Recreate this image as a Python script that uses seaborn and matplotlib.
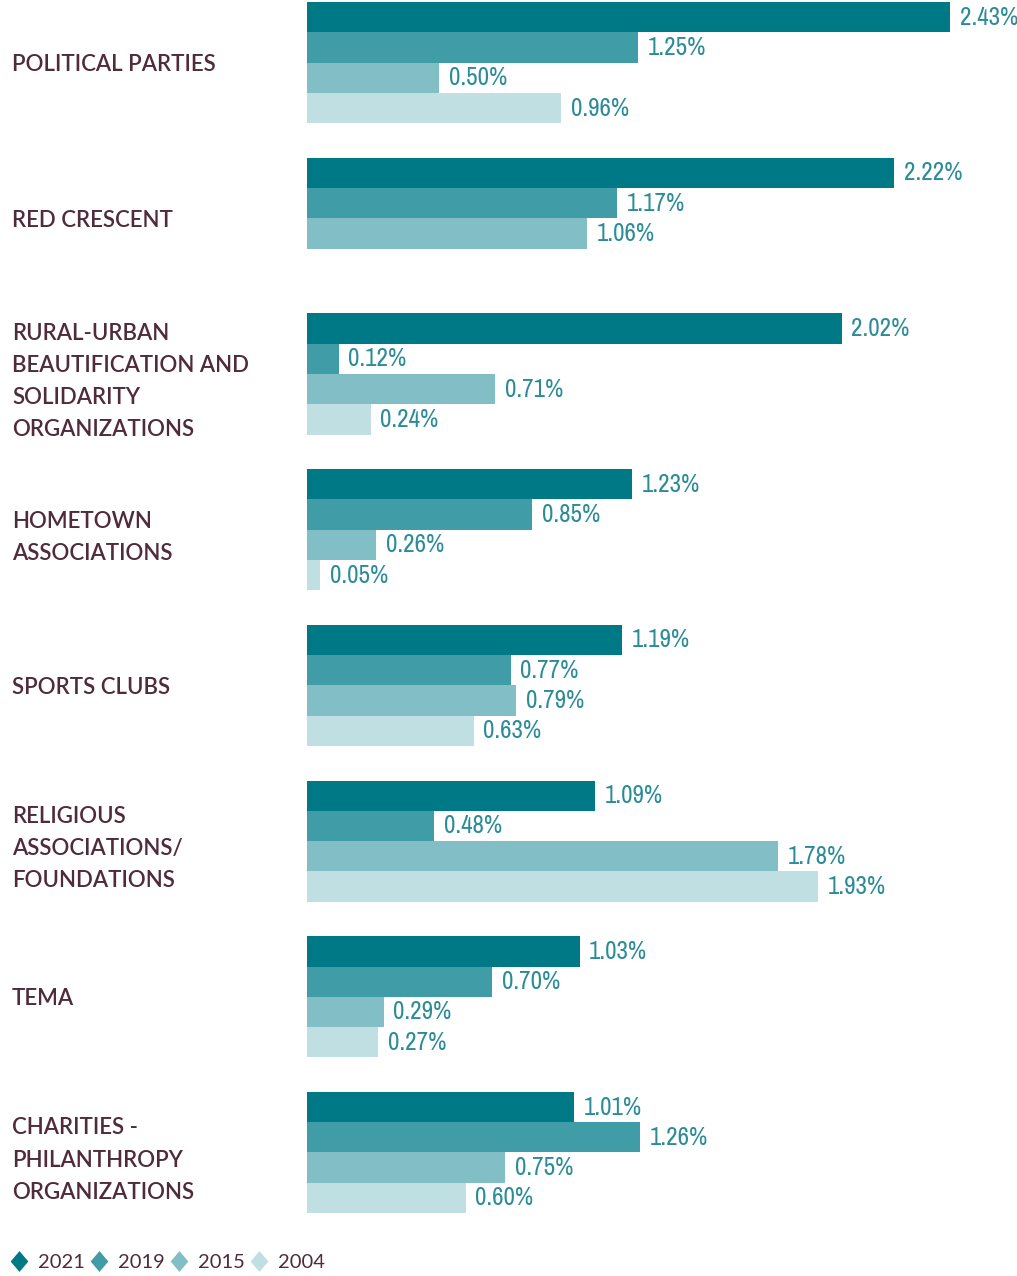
import numpy as np
import pandas as pd
import seaborn as sns
import matplotlib.pyplot as plt
from matplotlib import font_manager
from matplotlib.lines import Line2D
from matplotlib.path import Path

categories = [
    "POLITICAL PARTIES",
    "RED CRESCENT",
    "RURAL-URBAN\nBEAUTIFICATION AND\nSOLIDARITY\nORGANIZATIONS",
    "HOMETOWN\nASSOCIATIONS",
    "SPORTS CLUBS",
    "RELIGIOUS\nASSOCIATIONS/\nFOUNDATIONS",
    "TEMA",
    "CHARITIES -\nPHILANTHROPY\nORGANIZATIONS",
]
years = ["2021", "2019", "2015", "2004"]
values_2021 = [2.43, 2.22, 2.02, 1.23, 1.19, 1.09, 1.03, 1.01]
values_2019 = [1.25, 1.17, 0.12, 0.85, 0.77, 0.48, 0.70, 1.26]
values_2015 = [0.50, 1.06, 0.71, 0.26, 0.79, 1.78, 0.29, 0.75]
values_2004 = [0.96, np.nan, 0.24, 0.05, 0.63, 1.93, 0.27, 0.60]

colors = ["#007987", "#409DA7", "#81BEC5", "#BFDFE2"]
label_color = "#4F2B3B"
value_color = "#2B8C97"

series = dict(zip(years, [values_2021, values_2019, values_2015, values_2004]))
df = pd.DataFrame(
    [(c, y, v) for y, vals in series.items() for c, v in zip(categories, vals)],
    columns=["category", "year", "value"],
).dropna()

sns.set_theme(style="white")
plt.rcParams["font.family"] = ["Lato", "DejaVu Sans"]

# use a narrow upright face for the value labels when one is installed
narrow_props = None
for f in font_manager.fontManager.ttflist:
    name = f.name.lower()
    if ("narrow" in name or "condensed" in name) and f.style == "normal" \
            and f.weight in (300, 400, "normal", "light", "regular"):
        narrow_props = font_manager.FontProperties(fname=f.fname, size=18)
        break
if narrow_props is not None:
    value_font = dict(fontproperties=narrow_props)
else:
    value_font = dict(fontsize=14, family=["Lato", "DejaVu Sans"],
                      fontweight="light")

fig = plt.figure(figsize=(10.17, 12.76), dpi=100)
ax = fig.add_axes([307 / 1017, 1 - 1240 / 1276, 688 / 1017, 1240 / 1276])

sns.barplot(
    data=df, x="value", y="category", hue="year",
    order=categories, hue_order=years, palette=colors,
    orient="h", errorbar=None, saturation=1, width=0.778,
    linewidth=0, ax=ax, legend=False,
)

ax.set_xlim(0, 2.6)
ax.set_ylim(7.562, -0.402)

for cont in ax.containers:
    ax.bar_label(cont, fmt="{:.2f}%", padding=7, color=value_color, **value_font)

ax.set_xlabel("")
ax.set_ylabel("")
ax.set_xticks([])
ax.set_yticks(range(len(categories)))
ax.set_yticklabels(categories, ha="left", color=label_color,
                   fontsize=16, fontweight="semibold", linespacing=1.65)
ax.tick_params(axis="y", length=0, pad=(307 - 12) * 0.72)
for s in ax.spines.values():
    s.set_visible(False)

diamond = Path([(0, 1), (0.85, 0), (0, -1), (-0.85, 0), (0, 1)],
               [Path.MOVETO, Path.LINETO, Path.LINETO, Path.LINETO, Path.CLOSEPOLY])
handles = [Line2D([], [], linestyle="none", marker=diamond, markersize=15,
                  markerfacecolor=c, markeredgewidth=0) for c in colors]
leg = fig.legend(handles, years, loc="center left",
                 bbox_to_anchor=(0.003, 14 / 1276), ncol=4, frameon=False,
                 fontsize=14.5, handlelength=1.0, handletextpad=0.45,
                 columnspacing=0.2, borderaxespad=0, borderpad=0.3)
for t in leg.get_texts():
    t.set_color(label_color)

fig.savefig("out.png", dpi=100)
